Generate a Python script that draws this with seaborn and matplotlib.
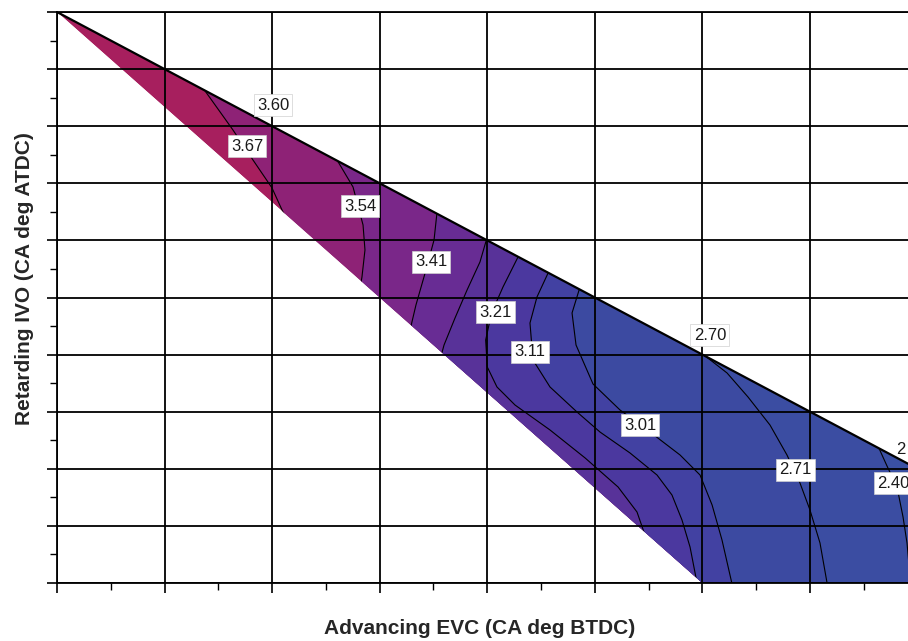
import numpy as np
import pandas as pd
import matplotlib
matplotlib.use('Agg')
import matplotlib.pyplot as plt
from matplotlib.patches import Polygon
import seaborn as sns

# contour lines (x = advancing EVC, y = retarding IVO), grid units
line_a_x = [1.357, 1.636, 1.822, 1.999, 2.092, 2.138]
line_a_y = [8.669, 7.933, 7.408, 6.918, 6.532, 6.357]
line_b_x = [2.603, 2.752, 2.845, 2.863, 2.835, 2.817]
line_b_y = [7.408, 6.935, 6.270, 5.832, 5.359, 5.166]
line_c_x = [3.533, 3.505, 3.430, 3.337, 3.282]
line_c_y = [6.497, 6.007, 5.482, 4.869, 4.431]
line_d_x = [3.997, 3.932, 3.812, 3.700, 3.598, 3.560]
line_d_y = [6.042, 5.622, 5.131, 4.641, 4.168, 3.905]
line_e_x = [4.295, 4.146, 4.040, 3.985, 4.000, 4.090, 4.258, 4.583, 4.910, 5.216, 5.392, 5.466]
line_e_y = [5.744, 5.184, 4.729, 4.256, 3.783, 3.433, 3.117, 2.680, 2.189, 1.681, 1.243, 0.841]
line_f_x = [4.574, 4.462, 4.397, 4.425, 4.583, 4.834, 5.048, 5.327, 5.578, 5.717, 5.810, 5.885, 5.959]
line_f_y = [5.464, 5.009, 4.553, 3.905, 3.433, 2.995, 2.644, 2.277, 1.891, 1.541, 1.103, 0.630, -0.088]
line_g_x = [4.862, 4.788, 4.825, 4.983, 5.234, 5.513, 5.792, 5.978, 6.090, 6.182, 6.284]
line_g_y = [5.184, 4.729, 4.168, 3.485, 3.030, 2.644, 2.242, 1.891, 1.366, 0.753, -0.088]
line_h_x = [5.978, 6.229, 6.424, 6.628, 6.786, 6.907, 7.000, 7.093, 7.167]
line_h_y = [4.046, 3.678, 3.257, 2.767, 2.242, 1.751, 1.278, 0.701, -0.088]
line_i_x = [7.632, 7.716, 7.809, 7.865, 7.902, 7.939]
line_i_y = [2.399, 2.049, 1.681, 1.156, 0.701, -0.088]

# band colours, left of line A first
band_colors = ['#A71F5E', '#8E2276', '#7A2789', '#682C94', '#583299',
               '#4B389F', '#4241A2', '#3C4AA1', '#3B4DA2', '#3A50A3']

# feasible region boundary
region_x = [0, 8.6, 8.6, 6]
region_y = [10, 1.4, 0, 0]

label_text = ['3.60', '3.67', '3.54', '3.41', '3.21', '3.11', '3.01', '2.70', '2.71', '2.40']
label_x = [2.008, 1.766, 2.817, 3.477, 4.072, 4.397, 5.420, 6.070, 6.861, 7.772]
label_y = [8.371, 7.653, 6.602, 5.622, 4.746, 4.046, 2.767, 4.343, 1.979, 1.751]

# label cut by the right edge of the original figure, only its first digit shows
edge_label = '2'
edge_label_x = 7.80
edge_label_y = 2.33

lines = [(line_a_x, line_a_y), (line_b_x, line_b_y), (line_c_x, line_c_y),
         (line_d_x, line_d_y), (line_e_x, line_e_y), (line_f_x, line_f_y),
         (line_g_x, line_g_y), (line_h_x, line_h_y), (line_i_x, line_i_y)]

sns.set_style('white')
plt.rcParams['font.family'] = ['Liberation Sans', 'DejaVu Sans']

fig = plt.figure(figsize=(9.08, 6.41), dpi=100)
ax = fig.add_axes([57 / 908, 58 / 641, 851 / 908, 571 / 641])

clip = Polygon(list(zip(region_x, region_y)), closed=True, transform=ax.transData)

# base fill then each band to the right of a contour line
base = ax.fill(region_x, region_y, color=band_colors[0], lw=0, zorder=1)[0]
base.set_clip_path(clip)
for i, (lx, ly) in enumerate(lines):
    px = list(lx) + [lx[-1], 20, 20, lx[0]]
    py = list(ly) + [-1, -1, 12, 12]
    p = ax.fill(px, py, color=band_colors[i + 1], lw=0, zorder=1)[0]
    p.set_clip_path(clip)

for lx, ly in lines:
    df = pd.DataFrame({'x': lx, 'y': ly})
    sns.lineplot(data=df, x='x', y='y', sort=False, estimator=None,
                 color='black', lw=0.8, ax=ax, zorder=2)
    ax.lines[-1].set_clip_path(clip)

# upper boundary
ax.plot([0, 8.6], [10, 1.4], color='black', lw=1.6, zorder=3)

for t, x, y in zip(label_text, label_x, label_y):
    ax.text(x, y, t, ha='center', va='center', fontsize=12, color='#1a1a1a', zorder=5,
            bbox=dict(boxstyle='square,pad=0.2', fc='white', ec='#d0d0d0', lw=0.5))
ax.text(edge_label_x, edge_label_y, edge_label, ha='left', va='center', fontsize=12,
        color='#1a1a1a', zorder=5)

ax.set_xlim(0, 851 / 107.57)
ax.set_ylim(0, 10)
ax.set_xticks(np.arange(0, 8, 1))
ax.set_xticks(np.arange(0.5, 8, 1), minor=True)
ax.set_yticks(np.arange(0, 11, 1))
ax.set_yticks(np.arange(0.5, 10, 1), minor=True)
ax.set_xticklabels([])
ax.set_yticklabels([])
ax.tick_params(which='major', direction='out', length=7, width=1.2, color='black',
               bottom=True, left=True)
ax.tick_params(which='minor', direction='out', length=5, width=1.0, color='black',
               bottom=True, left=True)
ax.grid(True, which='major', color='black', lw=1.3)
ax.set_axisbelow(False)
for s in ['left', 'bottom', 'top']:
    ax.spines[s].set_color('black')
    ax.spines[s].set_linewidth(1.3)
ax.spines['right'].set_visible(False)

ax.set_xlabel('Advancing EVC (CA deg BTDC)', fontsize=15, fontweight='bold')
ax.set_ylabel('Retarding IVO (CA deg ATDC)', fontsize=15, fontweight='bold')
ax.xaxis.set_label_coords(423 / 851, -36 / 571)
ax.yaxis.set_label_coords(-23 / 851, 304 / 571)

fig.savefig('out.png', dpi=100)
